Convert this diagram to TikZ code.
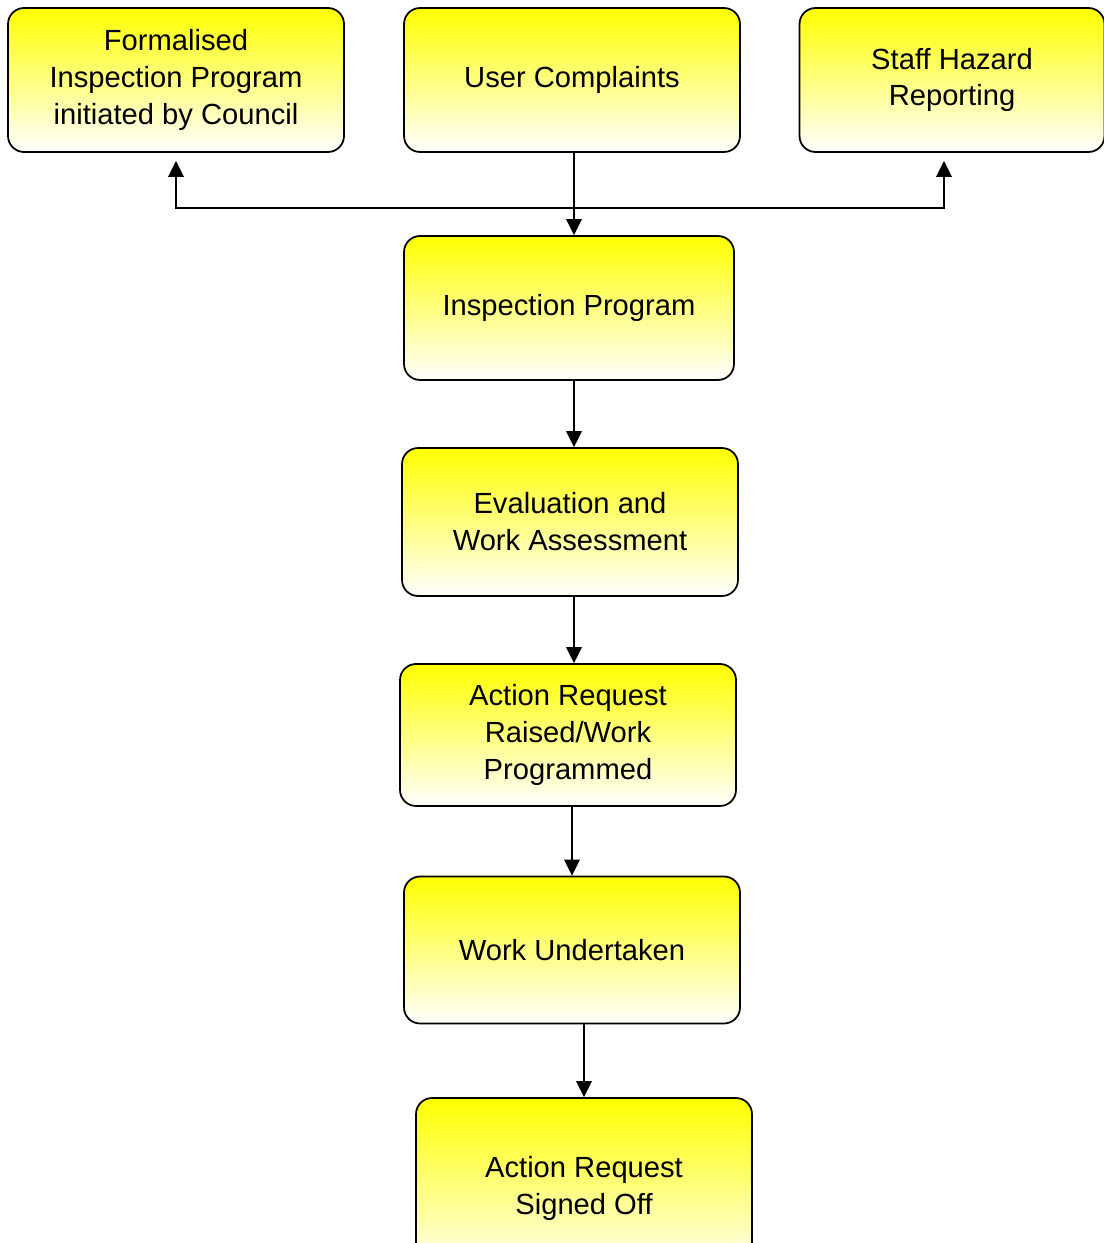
\documentclass[tikz,border=0pt]{standalone}
\usepackage{fontspec}
\setmainfont{Liberation Sans}
\usetikzlibrary{arrows.meta}

\begin{document}
\begin{tikzpicture}[x=0.02cm, y=-0.02cm, >={Triangle[length=3.2mm, width=3.1mm]},
	every node/.style={font=\fontsize{16.6}{21}\selectfont},
	stage/.style={draw, line width=1pt, rounded corners=0.32cm, top color=yellow, middle color=yellow!30!white, bottom color=white, align=center, minimum width=6.72cm, minimum height=2.88cm, inner sep=2pt},
	flow/.style={->, line width=1pt}]
	\useasboundingbox (0,0) rectangle (1104,1243);
	\node[stage] (form) at (176,80) {Formalised\\Inspection Program\\initiated by Council};
	\node[stage] (user) at (572,80) {User Complaints};
	\node[stage, minimum width=6.1cm] (staff) at (952,80) {Staff Hazard\\Reporting};
	\node[stage, minimum width=6.6cm] (insp) at (569,308) {Inspection Program};
	\node[stage, minimum height=2.96cm] (eval) at (570,522) {Evaluation and\\Work Assessment};
	\node[stage, minimum height=2.84cm] (raised) at (568,735) {Action Request\\Raised/Work\\Programmed};
	\node[stage, minimum height=2.94cm] (work) at (572,950) {Work Undertaken};
	\node[stage, minimum height=3.6cm] (signed) at (584,1188) {Action Request\\Signed Off};
	\coordinate (split) at (574,208);
	\draw[flow] (user.south -| split) -- (insp.north -| split);
	\draw[flow] (split) -| ([yshift=-0.16cm]form.south);
	\draw[flow] (split) -| ([xshift=-0.16cm, yshift=-0.16cm]staff.south);
	\draw[flow] (insp.south -| split) -- (eval.north -| split);
	\draw[flow] (eval.south -| split) -- (raised.north -| split);
	\draw[flow] (raised.south -| work.south) -- (work.north);
	\draw[flow] (signed.north |- work.south) -- (signed.north);
\end{tikzpicture}
\end{document}
